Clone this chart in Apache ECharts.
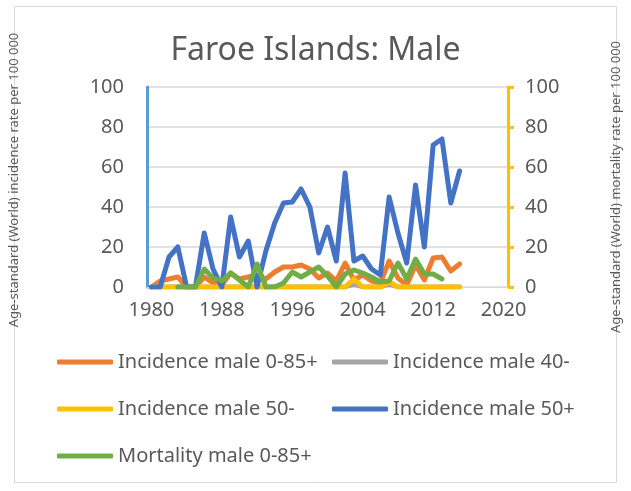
<!DOCTYPE html>
<html>
<head>
<meta charset="utf-8">
<script src="https://cdn.jsdelivr.net/npm/echarts@6/dist/echarts.min.js"></script>
<style>
  html, body { margin: 0; padding: 0; background: #fff; }
  #chart { width: 631px; height: 491px; }
</style>
</head>
<body>
<div id="chart"></div>
<script>
// categories 1980..2020, only every 8th year labelled
var years = ['1980','1981','1982','1983','1984','1985','1986','1987','1988','1989',
  '1990','1991','1992','1993','1994','1995','1996','1997','1998','1999',
  '2000','2001','2002','2003','2004','2005','2006','2007','2008','2009',
  '2010','2011','2012','2013','2014','2015','2016','2017','2018','2019','2020']

// values 1980..2015
var inc085 = [0, 3, 4, 5, 0, 0, 5, 2, 1, 7, 4, 5, 6, 4, 7.5, 10, 10, 11, 9, 4.5,
  7, 3, 12, 3.5, 6, 3, 2, 13, 4.5, 1, 11, 3.5, 14.5, 15, 8, 11.5]
var inc40 = [0, 0, 0, 0, 0, 0, 0, 0, 0, 0, 0, 0, 0, 0, 0, 0, 0, 0, 0, 0,
  0, 0, 0, 1.5, 0, 0, 0, 1.5, 0, 0, 0, 0, 0, 0, 0, 0]
var inc50minus = [0, 0, 0, 0, 0, 0, 0, 0, 0, 0, 0, 0, 0, 0, 0, 0, 0, 0, 0, 0,
  0, 0, 0, 4, 0, 0, 0, 2.7, 0, 0, 0, 0, 0, 0, 0, 0]
var inc50plus = [0, 0, 15, 20, 0, 0, 27, 9, 0, 35, 15, 23, 0, 18, 32, 42, 42.5, 49, 40, 17,
  30, 13, 57, 13, 15.5, 9, 6, 45, 27, 12, 51, 20, 71, 74, 42, 58]
var mort085 = [null, null, null, 0, 0, 0, 9, 4.5, 3, 7, 3.5, 0, 11.5, 0, 0, 2, 7.5, 5, 7.5, 10,
  5.5, 0, 6.5, 8.5, 7, 5, 2.5, 3, 12, 4, 14, 6.5, 6.5, 4]

var chart = echarts.init(document.getElementById('chart'))
var txt = '#595959'
var font = 'Noto Sans'

function line (name, data, color, axis) {
  return {
    name: name,
    type: 'line',
    yAxisIndex: axis,
    data: data,
    showSymbol: false,
    symbol: 'none',
    lineStyle: { color: color, width: 5, cap: 'round', join: 'round' },
    itemStyle: { color: color },
    animation: false
  }
}

var legendText = { color: txt, fontFamily: font, fontSize: 20, lineHeight: 26 }

var option = {
  backgroundColor: '#fff',
  title: {
    text: 'Faroe Islands: Male',
    left: 'center',
    top: 30,
    textStyle: { color: txt, fontFamily: font, fontSize: 32, fontWeight: 'normal' }
  },
  graphic: [{
    type: 'rect',
    shape: { x: 14.5, y: 6.5, width: 602, height: 476 },
    style: { fill: 'none', stroke: '#d9d9d9', lineWidth: 1 },
    silent: true
  }],
  legend: [
    {
      orient: 'vertical',
      left: 52,
      top: 344,
      itemWidth: 56,
      itemHeight: 5,
      itemGap: 21,
      icon: 'roundRect',
      textStyle: legendText,
      data: ['Incidence male 0-85+', 'Incidence male 50-', 'Mortality male 0-85+']
    },
    {
      orient: 'vertical',
      left: 327,
      top: 344,
      itemWidth: 56,
      itemHeight: 5,
      itemGap: 21,
      icon: 'roundRect',
      textStyle: legendText,
      data: ['Incidence male 40-', 'Incidence male 50+']
    }
  ],
  grid: { left: 143, right: 118, top: 87, bottom: 204 },
  xAxis: {
    type: 'category',
    data: years,
    boundaryGap: true,
    axisLine: { show: true, lineStyle: { color: '#d9d9d9' } },
    axisTick: { show: false },
    axisLabel: { interval: 7, color: txt, fontFamily: font, fontSize: 20, margin: 13 }
  },
  yAxis: [
    {
      type: 'value',
      min: 0,
      max: 100,
      interval: 20,
      name: 'Age-standard (World) incidence rate per 100 000',
      nameLocation: 'middle',
      nameRotate: 90,
      nameGap: 126,
      nameTextStyle: { color: txt, fontFamily: font, fontSize: 13, padding: [0, 0, 0, 14] },
      axisLine: { show: true, lineStyle: { color: '#5B9BD5', width: 3 } },
      axisTick: { show: false },
      axisLabel: { color: txt, fontFamily: font, fontSize: 20, margin: 23 },
      splitLine: { lineStyle: { color: '#d9d9d9', width: 1.5 } }
    },
    {
      type: 'value',
      min: 0,
      max: 100,
      interval: 20,
      position: 'right',
      name: 'Age-standard (World) mortality rate per 100 000',
      nameLocation: 'middle',
      nameRotate: 90,
      nameGap: 102,
      nameTextStyle: { color: txt, fontFamily: font, fontSize: 13 },
      axisLine: { show: true, lineStyle: { color: '#FFC000', width: 3 } },
      axisTick: { show: true, inside: false, length: 6, lineStyle: { color: '#FFC000', width: 3 } },
      axisLabel: { color: txt, fontFamily: font, fontSize: 20, margin: 17 },
      splitLine: { show: false }
    }
  ],
  series: [
    line('Incidence male 0-85+', inc085, '#ED7D31', 0),
    line('Incidence male 40-', inc40, '#A5A5A5', 0),
    line('Incidence male 50-', inc50minus, '#FFC000', 0),
    line('Incidence male 50+', inc50plus, '#4472C4', 0),
    line('Mortality male 0-85+', mort085, '#70AD47', 1)
  ]
}
chart.setOption(option)
</script>
</body>
</html>
